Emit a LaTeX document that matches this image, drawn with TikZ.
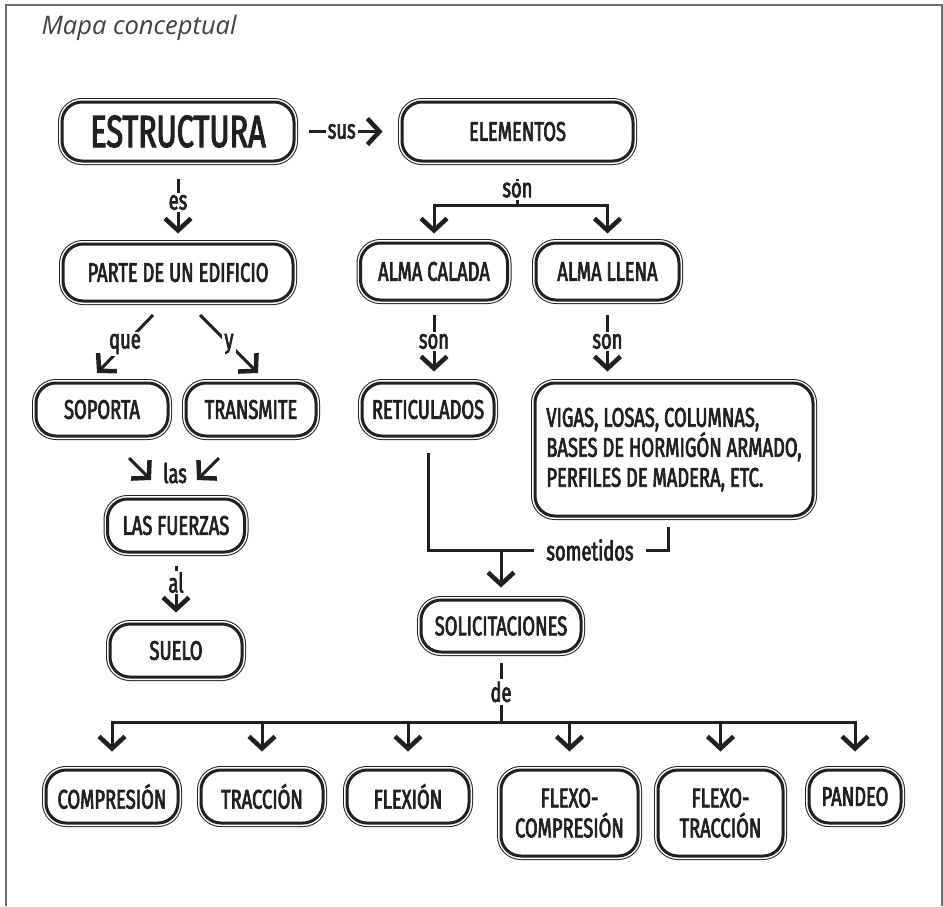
\documentclass[tikz,border=0pt]{standalone}
\usepackage{fontspec}
\usetikzlibrary{arrows.meta}
\newfontfamily\condfont[FakeStretch=0.68,FakeBold=2.5]{Fira Sans}
\newfontfamily\titlefont{Open Sans}
\definecolor{ink}{HTML}{231F20}
\definecolor{framegray}{HTML}{6D6E71}
\definecolor{titlegray}{HTML}{414042}

\tikzset{
  concept/.style={draw=ink, fill=white, line width=3pt, rounded corners=20pt,
    preaction={draw=ink, line width=8pt},
    preaction={draw=white, line width=6pt},
    inner sep=2pt, text=ink, align=center,
    font=\condfont\fontsize{27}{30}\selectfont},
  link/.style={draw=ink, line width=3pt},
  arr/.style={link, -{Straight Barb[length=12pt,width=26pt,line width=4.5pt]}},
  lbl/.style={fill=white, inner sep=2pt, text=ink,
    font=\condfont\fontsize{27}{30}\selectfont},
}

\begin{document}
\begin{tikzpicture}[x=1pt, y=-1pt]
\useasboundingbox (0,0) rectangle (943,906);
\draw[framegray, line width=2pt] (6,906) -- (6,5) -- (942,5) -- (942,906);

\node[anchor=west, text=titlegray, font=\titlefont\itshape\fontsize{25.5}{29}\selectfont] (titulo) at (38,28) {Mapa conceptual};

% upper part
\node[concept, minimum width=232pt, minimum height=59pt, font=\condfont\fontsize{45}{48}\selectfont] (estructura) at (178,131.5) {ESTRUCTURA};
\node[concept, minimum width=231pt, minimum height=59pt] (elementos) at (517.5,131.5) {ELEMENTOS};
\node[concept, minimum width=230pt, minimum height=57pt] (parte) at (178,272.5) {PARTE DE UN EDIFICIO};
\node[concept, minimum width=147pt, minimum height=57pt] (calada) at (434,271.5) {ALMA CALADA};
\node[concept, minimum width=143pt, minimum height=57pt] (llena) at (607.5,271.5) {ALMA LLENA};

% middle part
\node[concept, minimum width=132pt, minimum height=53pt] (soporta) at (102,409.5) {SOPORTA};
\node[concept, minimum width=130pt, minimum height=53pt] (transmite) at (251,409.5) {TRANSMITE};
\node[concept, minimum width=132pt, minimum height=53pt] (reticulados) at (428,409.5) {RETICULADOS};
\node[concept, minimum width=278pt, minimum height=133pt, align=left] (vigas) at (674,449.5) {VIGAS, LOSAS, COLUMNAS,\\BASES DE HORMIGÓN ARMADO,\\PERFILES DE MADERA, ETC.};
\node[concept, minimum width=137pt, minimum height=53pt] (fuerzas) at (176,525.5) {LAS FUERZAS};
\node[concept, minimum width=132pt, minimum height=53pt] (suelo) at (176,650.5) {SUELO};
\node[concept, minimum width=160pt, minimum height=52pt] (solicit) at (501,626) {SOLICITACIONES};

% bottom row
\node[concept, minimum width=132pt, minimum height=53pt] (compr) at (112,796.5) {COMPRESIÓN};
\node[concept, minimum width=122pt, minimum height=53pt] (tracc) at (262,796.5) {TRACCIÓN};
\node[concept, minimum width=122pt, minimum height=53pt] (flex) at (408,796.5) {FLEXIÓN};
\node[concept, minimum width=137pt, minimum height=86pt] (fcomp) at (569.5,813) {FLEXO-\\COMPRESIÓN};
\node[concept, minimum width=125pt, minimum height=86pt] (ftrac) at (720.5,813) {FLEXO-\\TRACCIÓN};
\node[concept, minimum width=92pt, minimum height=53pt] (pand) at (855,796.5) {PANDEO};

\coordinate (sonbar) at (517.5,205);
\coordinate (que-a) at (153,315);
\coordinate (que-b) at (97,373);
\coordinate (y-a) at (200,315);
\coordinate (y-b) at (258,373);
\coordinate (las-l) at (129,458);
\coordinate (las-r) at (219,458);
\coordinate (somet-r) at (668,550);
\coordinate (somet-j) at (501,550);
\coordinate (debar) at (501,722);

% connectors
\draw[arr, shorten <=13pt, shorten >=18pt] (estructura) -- node[lbl, pos=0.44] {sus} (elementos);
\draw[arr, shorten <=16pt, shorten >=9pt] (estructura) -- node[lbl] {es} (parte);
\draw[link, shorten <=16pt] (elementos) -- node[lbl, pos=0.65] {son} (sonbar);
\draw[arr, shorten >=8pt] (sonbar) -| (calada);
\draw[arr, shorten >=8pt] (sonbar) -| (llena);

\draw[arr] (que-a) -- node[lbl] {que} (que-b);
\draw[arr] (y-a) -- node[lbl] {y} (y-b);
\draw[arr] (las-l) -- ++(22,22);
\draw[arr] (las-r) -- ++(-22,22);
\node[lbl] (las) at (175,473) {las};
\draw[arr, shorten <=12pt, shorten >=10pt] (fuerzas) -- node[lbl, pos=0.42, inner ysep=1pt] {al} (suelo);

\draw[arr, shorten <=13pt, shorten >=10pt] (calada) -- node[lbl] {son} (calada |- reticulados.north);
\draw[arr, shorten <=13pt, shorten >=10pt] (llena) -- node[lbl] {son} (llena |- vigas.north);

\draw[link, shorten <=15pt, shorten >=9pt] (reticulados) |- node[lbl, pos=0.8375, inner xsep=12pt] {sometidos} (somet-r) -- (somet-r |- vigas.south);
\draw[arr, shorten >=11pt] (somet-j) -- (solicit);

\draw[link, shorten <=9pt] (solicit) -- node[lbl, pos=0.56, inner sep=3pt] {de} (debar);
\draw[link, line cap=rect] (compr |- debar) -- (pand |- debar);
\foreach \n in {compr,tracc,flex,fcomp,ftrac,pand}
  \draw[arr, shorten >=17pt] (\n |- debar) -- (\n);
\end{tikzpicture}
\end{document}
